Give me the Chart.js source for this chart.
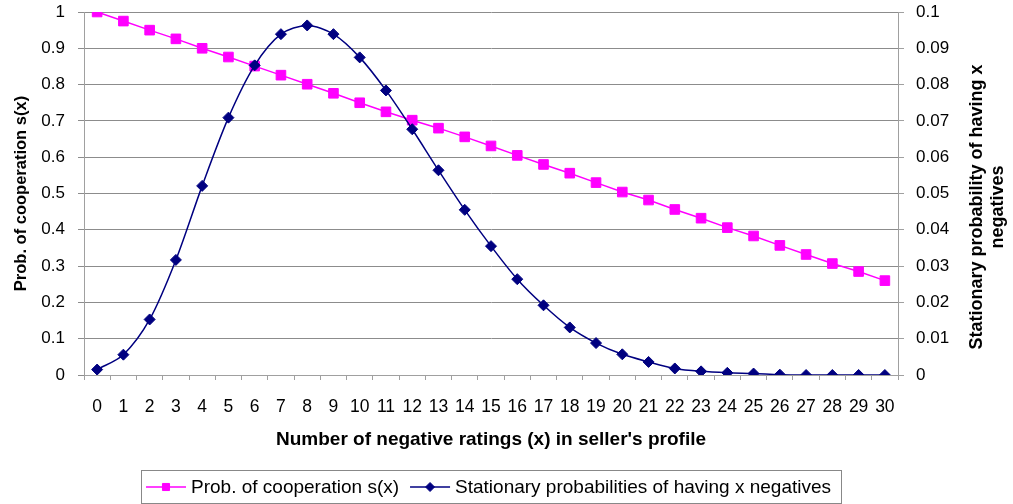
<!DOCTYPE html>
<html><head><meta charset="utf-8">
<script src="https://cdn.jsdelivr.net/npm/chart.js@4"></script>
<style>html,body{margin:0;padding:0;background:#fff;overflow:hidden}canvas{display:block}</style>
</head><body>
<canvas id="c" width="1013" height="504"></canvas>
<script>
const categories = ['0','1','2','3','4','5','6','7','8','9','10','11','12','13','14','15','16','17','18','19','20','21','22','23','24','25','26','27','28','29','30'];
const cooperation = [1.000,0.975,0.950,0.926,0.900,0.876,0.851,0.826,0.801,0.776,0.750,0.725,0.702,0.680,0.656,0.631,0.605,0.580,0.556,0.530,0.504,0.482,0.456,0.432,0.406,0.383,0.357,0.332,0.307,0.285,0.260];
const stationary = [0.0015,0.0056,0.0153,0.0317,0.0521,0.0709,0.0853,0.0939,0.0963,0.0939,0.0875,0.0784,0.0677,0.0564,0.0455,0.0355,0.0264,0.0192,0.0131,0.0088,0.0057,0.0036,0.0018,0.0010,0.0006,0.0004,0.0001,0.0000,0.0000,0.0000,0.0000];
const seriesLabels = ['Prob. of cooperation s(x)', 'Stationary probabilities of having x negatives'];
const leftAxisTitle = 'Prob. of cooperation s(x)';
const rightAxisTitle = ['Stationary probability of having x', 'negatives'];
const xAxisTitle = "Number of negative ratings (x) in seller's profile";

const FONT = '"Liberation Sans", Arial, sans-serif';
const PINK = '#FF00FF', NAVY = '#000080', GRID = '#8c8c8c', AXIS = '#a0a0a0';

function drawMarker(ctx, style, x, y, r, color) {
  ctx.save(); ctx.fillStyle = color; ctx.strokeStyle = color; ctx.lineWidth = 1;
  ctx.beginPath();
  if (style === 'rect') { const s = Math.SQRT1_2 * r; ctx.rect(x - s, y - s, 2 * s, 2 * s); }
  else { ctx.moveTo(x - r, y); ctx.lineTo(x, y - r); ctx.lineTo(x + r, y); ctx.lineTo(x, y + r); ctx.closePath(); }
  ctx.fill(); ctx.stroke(); ctx.restore();
}

const extras = {
  id: 'extras',
  afterDraw(chart) {
    const ctx = chart.ctx, ca = chart.chartArea;
    // right axis title (rotated, reading bottom-to-top)
    ctx.save();
    ctx.font = 'bold 18px ' + FONT; ctx.fillStyle = '#000';
    ctx.textAlign = 'center'; ctx.textBaseline = 'middle';
    ctx.translate(ca.right + 79, 207); ctx.rotate(-Math.PI / 2);
    rightAxisTitle.forEach((t, i) => ctx.fillText(t, 0, i * 21));
    ctx.restore();
    // legend with box
    ctx.save();
    ctx.font = '19px ' + FONT;
    const items = chart.data.datasets.map(ds => ({ label: ds.label, color: ds.borderColor, style: ds.pointStyle, w: ctx.measureText(ds.label).width }));
    const lineLen = 40, gap = 5, itemGap = 11, padL = 5, padR = 10;
    const total = padL + padR + items.reduce((s, it) => s + lineLen + gap + it.w, 0) + itemGap * (items.length - 1);
    const cx = (ca.left + ca.right) / 2;
    const x0 = Math.round(cx - total / 2), top = 470, h = 33;
    ctx.strokeStyle = '#888'; ctx.lineWidth = 1;
    ctx.strokeRect(x0 + 0.5, top + 0.5, Math.round(total), h);
    let x = x0 + padL; const y = top + h / 2 + 0.5;
    items.forEach(it => {
      ctx.strokeStyle = it.color; ctx.lineWidth = 1.5;
      ctx.beginPath(); ctx.moveTo(x, y); ctx.lineTo(x + lineLen, y); ctx.stroke();
      drawMarker(ctx, it.style, x + lineLen / 2, y, it.style === 'rect' ? 5 : 4.5, it.color);
      ctx.fillStyle = '#000'; ctx.textAlign = 'left'; ctx.textBaseline = 'middle';
      ctx.fillText(it.label, x + lineLen + gap, y + 1);
      x += lineLen + gap + it.w + itemGap;
    });
    ctx.restore();
  }
};

new Chart(document.getElementById('c'), {
  type: 'line',
  data: {
    labels: categories,
    datasets: [
      { label: seriesLabels[0], data: cooperation, yAxisID: 'y', borderColor: PINK, backgroundColor: PINK,
        borderWidth: 1.5, pointStyle: 'rect', pointRadius: 6.8, pointBorderWidth: 1, tension: 0, order: 1 },
      { label: seriesLabels[1], data: stationary, yAxisID: 'y1', borderColor: NAVY, backgroundColor: NAVY,
        borderWidth: 1.5, pointStyle: 'rectRot', pointRadius: 5.5, pointBorderWidth: 1, tension: 0.3, order: 0 }
    ]
  },
  options: {
    responsive: false, animation: false, devicePixelRatio: 1,
    layout: { padding: { left: 0, right: 0, top: 12, bottom: 34 } },
    plugins: { legend: { display: false }, tooltip: { enabled: false } },
    scales: {
      x: {
        offset: true,
        grid: { offset: true, drawOnChartArea: false, drawTicks: true, tickLength: 5, color: AXIS },
        border: { color: AXIS },
        ticks: { autoSkip: false, maxRotation: 0, padding: 17, color: '#000', font: { family: FONT, size: 17.5 } },
        title: { display: true, text: xAxisTitle, color: '#000', font: { family: FONT, size: 19, weight: 'bold' }, padding: { top: 0, bottom: 19 } },
        afterFit(s) { s.height = 95; }
      },
      y: {
        position: 'left', min: 0, max: 1,
        grid: { color: GRID, tickLength: 6 },
        border: { color: AXIS },
        ticks: { stepSize: 0.1, padding: 13, color: '#000', font: { family: FONT, size: 17 },
          callback: v => String(+v.toFixed(1)) },
        title: { display: true, text: leftAxisTitle, color: '#000', font: { family: FONT, size: 16.5, weight: 'bold' }, padding: { top: 12, bottom: 0 } },
        afterFit(s) { s.width = 84; s.paddingTop = 0; s.paddingBottom = 0; }
      },
      y1: {
        position: 'right', min: 0, max: 0.1,
        grid: { drawOnChartArea: false, color: AXIS, tickLength: 6 },
        border: { color: AXIS },
        ticks: { stepSize: 0.01, padding: 12, color: '#000', font: { family: FONT, size: 17 },
          callback: v => String(+v.toFixed(2)) },
        afterFit(s) { s.width = 115; s.paddingTop = 0; s.paddingBottom = 0; }
      }
    }
  },
  plugins: [extras]
});
</script>
</body></html>
